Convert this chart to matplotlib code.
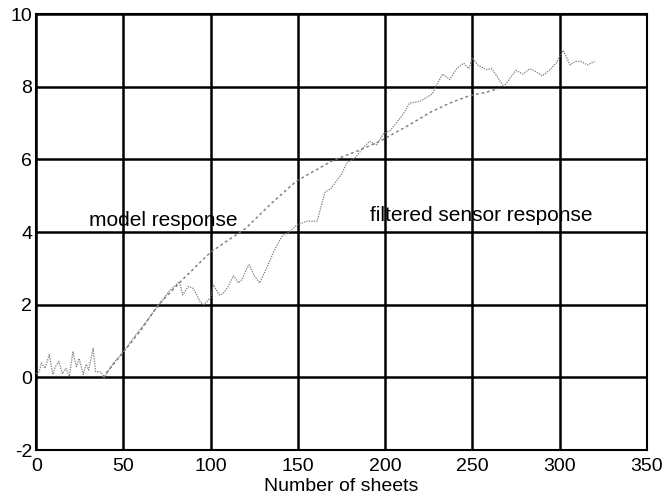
import matplotlib
matplotlib.use("Agg")
import matplotlib.pyplot as plt

plt.rcParams['font.family'] = ['Liberation Sans', 'DejaVu Sans']
plt.rcParams['axes.unicode_minus'] = False

# model response (smooth curve)
model_x = [38, 50, 60, 70, 84, 100, 120, 135, 149, 160, 170, 185, 197, 212, 226, 237, 248, 258, 265]
model_y = [0.0, 0.7, 1.3, 2.0, 2.7, 3.45, 4.1, 4.8, 5.4, 5.7, 5.97, 6.25, 6.5, 6.9, 7.3, 7.55, 7.75, 7.85, 7.95]

# filtered sensor response (noisy curve)
sensor_x = [0, 1.7, 3, 5, 7.5, 9.5, 11, 13, 15, 17, 19, 21, 23, 24.6, 27, 28.6, 30, 32.6, 34, 37, 39,
            44, 50, 55.5, 63, 68.7, 72, 76, 79, 82, 84, 87, 90, 94, 96, 100, 101.5, 105, 107, 110, 113,
            116, 118, 120.7, 122, 125, 128, 132, 136, 141, 145, 149.5, 155, 161, 165.5, 169, 172, 175,
            178, 183, 187, 191, 195, 199, 203, 208, 211, 214, 220, 227, 230, 233, 237, 241, 245, 248,
            250, 253, 258, 261, 264, 268, 271, 275, 279, 283, 287, 290, 294, 298, 302, 306, 309, 312,
            316, 320]
sensor_y = [0.1, 0.16, 0.4, 0.25, 0.63, 0.08, 0.3, 0.44, 0.1, 0.25, 0.03, 0.7, 0.3, 0.52, 0.08, 0.36,
            0.2, 0.8, 0.16, 0.15, 0.0, 0.38, 0.7, 1.07, 1.53, 1.9, 2.1, 2.36, 2.5, 2.63, 2.27, 2.5, 2.45,
            2.08, 2.0, 2.2, 2.55, 2.27, 2.3, 2.5, 2.8, 2.6, 2.7, 3.0, 3.1, 2.8, 2.6, 3.0, 3.45, 3.9, 4.0,
            4.2, 4.3, 4.3, 5.1, 5.2, 5.4, 5.6, 5.9, 6.05, 6.3, 6.5, 6.4, 6.7, 6.8, 7.1, 7.3, 7.55, 7.6,
            7.8, 8.1, 8.35, 8.2, 8.5, 8.65, 8.5, 8.8, 8.6, 8.47, 8.5, 8.3, 8.0, 8.2, 8.45, 8.35, 8.5,
            8.4, 8.3, 8.45, 8.65, 9.0, 8.6, 8.7, 8.7, 8.6, 8.7]

xticks = [0, 50, 100, 150, 200, 250, 300, 350]
yticks = [-2, 0, 2, 4, 6, 8, 10]

fig = plt.figure(figsize=(6.71, 5.04), dpi=100)
ax = fig.add_axes([0.054, 0.107, 0.91, 0.865])

ax.plot(model_x, model_y, color='#7a7a7a', lw=1.0, ls=(0, (2, 2)), zorder=3)
ax.plot(sensor_x, sensor_y, color='#7a7a7a', lw=0.9, ls=(0, (1, 1)), zorder=3)

ax.set_xlim(0, 350)
ax.set_ylim(-2, 10)
ax.set_xticks(xticks)
ax.set_yticks(yticks)
ax.grid(True, color='black', lw=1.8, ls='-')
ax.set_axisbelow(True)
for s in ax.spines.values():
    s.set_linewidth(1.5)
    s.set_color('black')
ax.tick_params(axis='x', length=0, labelsize=14, pad=6)
ax.tick_params(axis='y', length=0, labelsize=14, pad=3)
ax.set_xlabel('Number of sheets', fontsize=14, labelpad=2)

ax.text(73, 4.33, 'model response', fontsize=15, va='center', ha='center', zorder=4)
ax.text(255, 4.47, 'filtered sensor response', fontsize=15, va='center', ha='center', zorder=4)

fig.savefig('out.png', dpi=100)
